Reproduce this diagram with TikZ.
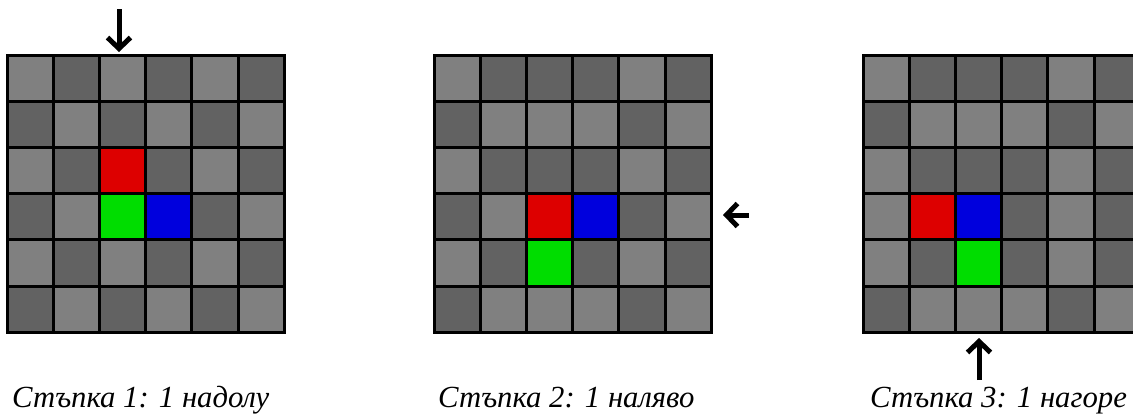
\documentclass[tikz,border=0pt]{standalone}
\usepackage{fontspec}
\setmainfont{Liberation Serif}
\usetikzlibrary{arrows.meta}
\definecolor{cL}{RGB}{128,128,128}
\definecolor{cD}{RGB}{98,98,98}
\definecolor{cR}{RGB}{221,0,0}
\definecolor{cG}{RGB}{0,221,0}
\definecolor{cB}{RGB}{0,0,221}
\newcommand\drawboard[2]{%
  \foreach \row [count=\r from 0] in {#2} {
    \foreach \c [count=\k from 0] in \row {
      \fill[fill=c\c] ({#1+\k*46.2},{55+\r*46.2}) rectangle ++(46.2,46.2);
    }
  }
  \foreach \i in {1,...,5} {
    \draw[gridline] ({#1+\i*46.2},55) -- ++(0,277.2);
    \draw[gridline] (#1,{55+\i*46.2}) -- ++(277.2,0);
  }
  \draw[gridline] (#1,55) rectangle ++(277.2,277.2);
}
\begin{document}
\begin{tikzpicture}[x=1pt,y=-1pt,
  gridline/.style={line width=3pt,draw=black},
  mv/.style={line width=5pt,draw=black,-{Straight Barb[length=11pt,width=23pt]}},
  caption/.style={font=\fontsize{30.7}{34}\selectfont\itshape,anchor=base west,inner sep=0pt}]
\useasboundingbox (0,0) rectangle (1133,418);
\clip (0,0) rectangle (1133,418);
\fill[white] (0,0) rectangle (1133,418);
\drawboard{7}{{L,D,L,D,L,D},{D,L,D,L,D,L},{L,D,R,D,L,D},{D,L,G,B,D,L},{L,D,L,D,L,D},{D,L,D,L,D,L}}
\drawboard{434}{{L,D,D,D,L,D},{D,L,L,L,D,L},{L,D,D,D,L,D},{D,L,R,B,D,L},{L,D,G,D,L,D},{D,L,L,L,D,L}}
\drawboard{863}{{L,D,D,D,L,D},{D,L,L,L,D,L},{L,D,D,D,L,D},{L,R,B,D,L,D},{L,D,G,D,L,D},{D,L,L,L,D,L}}
\coordinate (a1s) at (119,9);   \coordinate (a1e) at (119,52);
\coordinate (a2s) at (749,215); \coordinate (a2e) at (723,215);
\coordinate (a3s) at (979,380); \coordinate (a3e) at (979,338);
\draw[mv] (a1s) -- (a1e);
\draw[mv] (a2s) -- (a2e);
\draw[mv] (a3s) -- (a3e);
\node[caption] (c1) at (12,407) {Стъпка 1: 1 надолу};
\node[caption] (c2) at (438,407) {Стъпка 2: 1 наляво};
\node[caption] (c3) at (870,407) {Стъпка 3: 1 нагоре};
\end{tikzpicture}
\end{document}
